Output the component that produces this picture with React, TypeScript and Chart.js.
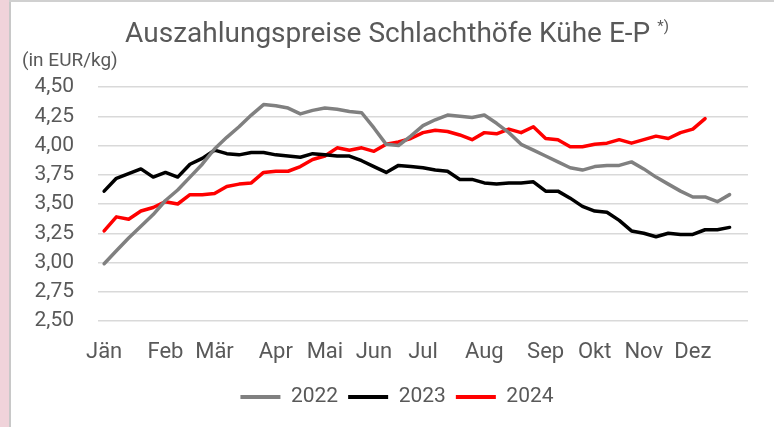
import React, { useEffect, useRef } from "react";
import { Chart, registerables } from "chart.js";

Chart.register(...registerables);

const titleText = "Auszahlungspreise Schlachthöfe Kühe E-P";
const titleNote = "*)";
const unitLabel = "(in EUR/kg)";

const monthLabels = ["Jän", "Feb", "Mär", "Apr", "Mai", "Jun", "Jul", "Aug", "Sep", "Okt", "Nov", "Dez"];
const monthStartWeek = [0, 5, 9, 14, 18, 22, 26, 31, 36, 40, 44, 48];
const weekCount = 53;

const seriesNames = ["2022", "2023", "2024"];

const prices2022 = [
  2.99, 3.10, 3.21, 3.31, 3.41, 3.53, 3.62, 3.73, 3.84, 3.97,
  4.07, 4.16, 4.26, 4.35, 4.34, 4.32, 4.27, 4.30, 4.32, 4.31,
  4.29, 4.28, 4.15, 4.01, 4.00, 4.08, 4.17, 4.22, 4.26, 4.25,
  4.24, 4.26, 4.19, 4.11, 4.01, 3.96, 3.91, 3.86, 3.81, 3.79,
  3.82, 3.83, 3.83, 3.86, 3.80, 3.73, 3.67, 3.61, 3.56, 3.56,
  3.52, 3.58,
];

const prices2023 = [
  3.61, 3.72, 3.76, 3.80, 3.73, 3.77, 3.73, 3.84, 3.89, 3.96,
  3.93, 3.92, 3.94, 3.94, 3.92, 3.91, 3.90, 3.93, 3.92, 3.91,
  3.91, 3.87, 3.82, 3.77, 3.83, 3.82, 3.81, 3.79, 3.78, 3.71,
  3.71, 3.68, 3.67, 3.68, 3.68, 3.69, 3.61, 3.61, 3.55, 3.48,
  3.44, 3.43, 3.36, 3.27, 3.25, 3.22, 3.25, 3.24, 3.24, 3.28,
  3.28, 3.30,
];

const prices2024 = [
  3.27, 3.39, 3.37, 3.44, 3.47, 3.52, 3.50, 3.58, 3.58, 3.59,
  3.65, 3.67, 3.68, 3.77, 3.78, 3.78, 3.82, 3.88, 3.91, 3.98,
  3.96, 3.98, 3.95, 4.01, 4.03, 4.06, 4.11, 4.13, 4.12, 4.09,
  4.05, 4.11, 4.10, 4.14, 4.11, 4.16, 4.06, 4.05, 3.99, 3.99,
  4.01, 4.02, 4.05, 4.02, 4.05, 4.08, 4.06, 4.11, 4.14, 4.23,
];

const yMin = 2.5;
const yMax = 4.5;
const yStep = 0.25;

const TEXT = "#595959";
const FONT = "Roboto";

const titlePlugin = {
  id: "customTitle",
  afterLayout(chart: any) {
    if (chart.legend) {
      chart.legend.left += 26;
    }
  },
  afterDraw(chart: any) {
    const ctx = chart.ctx;
    ctx.save();
    ctx.fillStyle = TEXT;
    ctx.textBaseline = "alphabetic";
    ctx.textAlign = "left";
    ctx.font = `28px ${FONT}`;
    const w1 = ctx.measureText(titleText).width;
    ctx.font = `15px ${FONT}`;
    const w2 = ctx.measureText(titleNote).width;
    const gap = 7;
    const total = w1 + gap + w2;
    const x0 = 397 - total / 2;
    ctx.font = `28px ${FONT}`;
    ctx.fillText(titleText, x0, 42);
    ctx.font = `15px ${FONT}`;
    ctx.fillText(titleNote, x0 + w1 + gap, 31);
    ctx.font = `19px ${FONT}`;
    ctx.fillText(unitLabel, 22, 66);
    ctx.restore();
  },
};

export default function App() {
  const canvasRef = useRef<HTMLCanvasElement | null>(null);

  useEffect(() => {
    const canvas = canvasRef.current;
    if (!canvas) return;
    const labels = Array.from({ length: weekCount }, (_, i) => {
      const m = monthStartWeek.indexOf(i);
      return m >= 0 ? monthLabels[m] : "";
    });
    const colors = ["#808080", "#000000", "#ff0000"];
    const data = [prices2022, prices2023, prices2024];
    const chart = new Chart(canvas, {
      type: "line",
      data: {
        labels,
        datasets: seriesNames.map((name, k) => ({
          label: name,
          data: data[k],
          borderColor: colors[k],
          backgroundColor: colors[k],
          borderWidth: 3.5,
          pointRadius: 0,
          pointHoverRadius: 0,
          tension: 0,
          fill: false,
          borderJoinStyle: "round" as const,
          borderCapStyle: "round" as const,
        })),
      },
      options: {
        responsive: false,
        animation: false,
        devicePixelRatio: 1,
        layout: { padding: { top: 87, left: 20, right: 26, bottom: 9.5 } },
        plugins: {
          title: { display: false },
          tooltip: { enabled: false },
          legend: {
            display: true,
            position: "bottom",
            labels: {
              boxWidth: 40,
              boxHeight: 4,
              padding: 10,
              color: TEXT,
              font: { family: FONT, size: 21 },
              useBorderRadius: true,
              borderRadius: 2,
              generateLabels: (ch: any) =>
                ch.data.datasets.map((ds: any, i: number) => ({
                  text: ds.label,
                  fillStyle: ds.borderColor,
                  strokeStyle: ds.borderColor,
                  lineWidth: 0,
                  fontColor: TEXT,
                  hidden: false,
                  datasetIndex: i,
                })),
            },
          },
        },
        scales: {
          x: {
            type: "category",
            offset: true,
            grid: { display: false, drawTicks: false },
            border: { display: false },
            ticks: {
              autoSkip: false,
              maxRotation: 0,
              minRotation: 0,
              padding: 18.5,
              color: TEXT,
              font: { family: FONT, size: 22 },
            },
            afterFit: (scale: any) => {
              scale.height = 55.5;
            },
          },
          y: {
            min: yMin,
            max: yMax,
            grid: { color: "#d9d9d9", lineWidth: 1.5, drawTicks: false },
            border: { display: false },
            ticks: {
              stepSize: yStep,
              padding: 24,
              color: TEXT,
              font: { family: FONT, size: 21 },
              callback: (v: any) => Number(v).toFixed(2).replace(".", ","),
            },
            afterFit: (scale: any) => {
              scale.width = 78;
            },
          },
        },
      },
      plugins: [titlePlugin],
    });
    return () => chart.destroy();
  }, []);

  return (
    <div style={{ position: "absolute", left: 0, top: 0, width: 774, height: 427, background: "#ffffff", overflow: "hidden" }}>
      <div style={{ position: "absolute", left: 0, top: 0, width: 9, height: 427, background: "#f0d3da" }} />
      <div style={{ position: "absolute", left: 9, top: 0, width: 2, height: 427, background: "#c8c8c8" }} />
      <div style={{ position: "absolute", left: 9, top: 0, width: 765, height: 2, background: "#d0d0d0" }} />
      <canvas ref={canvasRef} width={774} height={427} style={{ position: "absolute", left: 0, top: 0, width: 774, height: 427, display: "block" }} />
    </div>
  );
}
